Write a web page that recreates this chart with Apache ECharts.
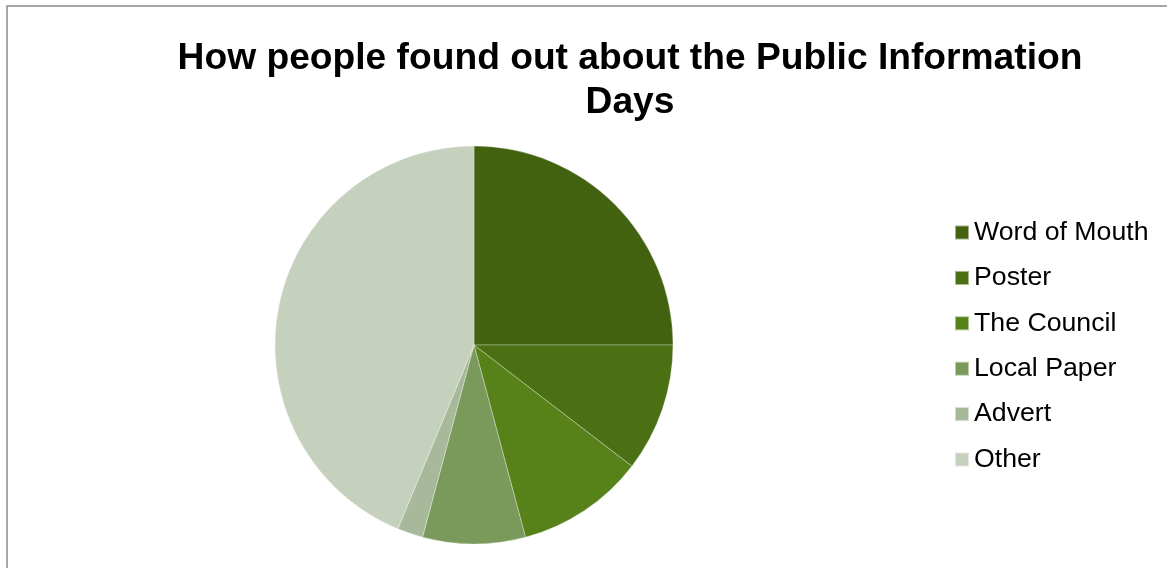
<!DOCTYPE html>
<html>
<head>
<meta charset="utf-8">
<script src="https://cdn.jsdelivr.net/npm/echarts@6/dist/echarts.min.js"></script>
<style>
html,body{margin:0;padding:0;background:#fff;}
#chart{width:1167px;height:568px;}
</style>
</head>
<body>
<div id="chart"></div>
<script>
const categories = ['Word of Mouth', 'Poster', 'The Council', 'Local Paper', 'Advert', 'Other'];
const values = [12, 5, 5, 4, 1, 21];
const colors = ['#426210', '#4b7014', '#578219', '#7a9a5c', '#a7b99a', '#c5d0bd'];
const titleText = 'How people found out about the Public Information\nDays';

const chart = echarts.init(document.getElementById('chart'), null, {renderer: 'canvas'});
chart.setOption({
  backgroundColor: '#ffffff',
  animation: false,
  color: colors,
  graphic: [{
    type: 'rect',
    shape: {x: 7, y: 6, width: 1180, height: 600},
    style: {fill: 'none', stroke: '#8c8c8c', lineWidth: 1.5},
    silent: true,
    z: -1
  }],
  title: {
    text: titleText,
    left: 630,
    top: 37,
    textAlign: 'center',
    padding: 0,
    textStyle: {
      fontFamily: 'Liberation Sans, Arial, sans-serif',
      fontSize: 37.2,
      fontWeight: 'bold',
      color: '#000',
      lineHeight: 44
    }
  },
  legend: {
    orient: 'vertical',
    left: 954,
    top: 219,
    padding: 0,
    icon: 'rect',
    itemWidth: 14,
    itemHeight: 14,
    itemGap: 18.4,
    data: categories,
    textStyle: {
      fontFamily: 'Liberation Sans, Arial, sans-serif',
      fontSize: 26.7,
      lineHeight: 26,
      color: '#000'
    }
  },
  series: [{
    type: 'pie',
    center: [474, 345],
    radius: 199,
    startAngle: 90,
    clockwise: true,
    label: {show: false},
    labelLine: {show: false},
    emphasis: {disabled: true},
    itemStyle: {borderColor: 'rgba(255,255,255,0.5)', borderWidth: 0.6},
    data: categories.map((c, i) => ({name: c, value: values[i]}))
  }]
});
</script>
</body>
</html>
